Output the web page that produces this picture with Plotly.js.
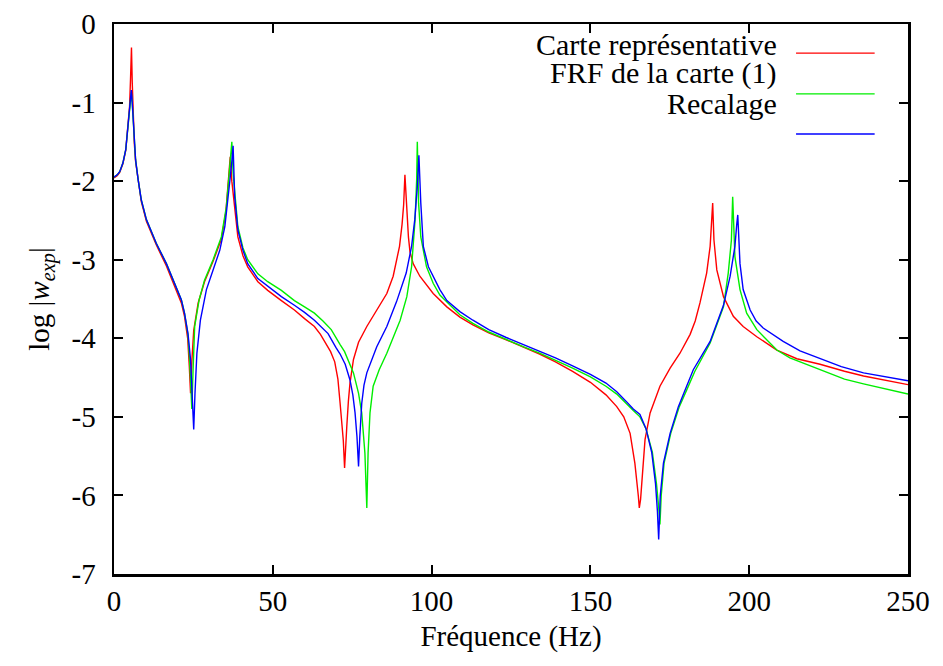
<!DOCTYPE html>
<html>
<head>
<meta charset="utf-8">
<script src="https://cdn.plot.ly/plotly-3.0.1.min.js"></script>
<style>
html,body{margin:0;padding:0;background:#fff;}
#chart{width:943px;height:666px;}
</style>
</head>
<body>
<div id="chart"></div>
<script>
// Series names
const seriesNames = ["Carte représentative", "FRF de la carte (1)", "Recalage"];
const seriesColors = ["#ff0000", "#00ee00", "#0000ff"];

// Carte représentative (red)
const freqRed = [0, 1.0, 1.8, 2.8, 3.7, 4.4, 4.9, 5.2, 5.5, 5.75, 6.0, 6.4, 6.8, 7.6, 8.6, 10.2, 11.8, 13.3, 16.5, 19.6, 21.2, 22.2, 23.2, 23.7, 24.1, 24.5, 25.1, 26.5, 28.5, 31.2, 33.8, 35.2, 36.0, 36.6, 37.1, 37.6, 38.0, 39.0, 40.6, 42.1, 45.3, 48.4, 52.7, 56.8, 60.0, 63.1, 65.0, 66.8, 68.2, 69.5, 70.5, 71.2, 71.8, 72.2, 72.6, 72.9, 73.3, 73.8, 74.3, 75.4, 77.0, 79.6, 82.5, 85.9, 87.9, 89.9, 90.7, 91.2, 91.6, 92.2, 92.7, 93.2, 94.2, 96.3, 100.5, 104.8, 108.9, 113, 118, 123.5, 129, 134, 139, 144.4, 150, 154.9, 158.3, 160.5, 162.5, 164.0, 165.1, 165.4, 165.8, 166.2, 167.2, 168.8, 171.9, 175.1, 178.2, 181.4, 183.0, 184.5, 186.6, 187.7, 188.2, 188.5, 188.9, 189.8, 191.9, 195.0, 198.1, 202.4, 208.7, 215, 222.3, 230, 236, 250];
const logRed = [-1.96, -1.93, -1.89, -1.78, -1.61, -1.32, -1.05, -0.70, -0.30, -0.75, -1.20, -1.52, -1.75, -2.00, -2.26, -2.51, -2.67, -2.81, -3.08, -3.38, -3.55, -3.72, -4.00, -4.35, -4.70, -4.30, -3.90, -3.55, -3.28, -3.02, -2.74, -2.40, -2.05, -1.69, -2.00, -2.20, -2.32, -2.71, -2.95, -3.09, -3.28, -3.39, -3.52, -3.64, -3.75, -3.85, -3.95, -4.07, -4.17, -4.30, -4.52, -4.83, -5.10, -5.30, -5.65, -5.35, -5.12, -4.80, -4.57, -4.27, -4.05, -3.85, -3.65, -3.43, -3.21, -2.83, -2.55, -2.30, -1.92, -2.41, -2.71, -2.90, -3.05, -3.21, -3.43, -3.60, -3.73, -3.83, -3.93, -4.02, -4.11, -4.20, -4.30, -4.42, -4.56, -4.72, -4.87, -5.00, -5.21, -5.59, -6.01, -6.16, -6.05, -5.80, -5.29, -4.95, -4.61, -4.38, -4.19, -3.95, -3.78, -3.55, -3.17, -2.83, -2.54, -2.28, -2.75, -3.13, -3.47, -3.72, -3.85, -3.98, -4.15, -4.26, -4.33, -4.42, -4.48, -4.59];

// FRF de la carte (1) (green)
const freqGreen = [0, 1.0, 1.8, 2.8, 3.7, 4.4, 4.9, 5.2, 5.45, 5.75, 6.0, 6.4, 6.8, 7.6, 8.6, 10.2, 11.8, 13.3, 16.5, 19.6, 21.2, 22.2, 23.3, 23.8, 24.2, 24.5, 24.9, 25.4, 26.8, 28.5, 31.2, 33.8, 35.4, 36.4, 37.1, 37.5, 38.0, 39.0, 40.6, 42.1, 45.3, 48.4, 52.7, 56.8, 60.0, 63.1, 65.8, 68.4, 71.2, 72.6, 75.4, 77.0, 78.0, 79.0, 79.6, 80.0, 80.6, 81.6, 83.5, 85.9, 88.0, 90.1, 92.2, 93.7, 94.8, 95.3, 95.5, 95.9, 96.6, 98.4, 100.5, 102.6, 108.9, 113, 118, 123.5, 129, 134, 139, 144.4, 150, 154.9, 158.3, 161.2, 163.5, 165.6, 167.5, 169.5, 170.8, 171.5, 171.9, 172.3, 173.2, 175.3, 178.0, 180.3, 182.9, 187.7, 191.9, 193.4, 194.4, 194.8, 195.5, 197.1, 199.2, 202.4, 208.7, 212.8, 222.3, 230, 236, 250];
const logGreen = [-1.95, -1.92, -1.88, -1.77, -1.60, -1.31, -1.09, -0.97, -0.87, -1.02, -1.22, -1.50, -1.73, -1.98, -2.24, -2.49, -2.65, -2.79, -3.05, -3.34, -3.51, -3.68, -3.96, -4.27, -4.60, -4.90, -4.40, -3.85, -3.51, -3.26, -3.00, -2.71, -2.32, -1.86, -1.50, -1.90, -2.15, -2.58, -2.85, -3.00, -3.18, -3.28, -3.39, -3.52, -3.60, -3.68, -3.78, -3.89, -4.08, -4.17, -4.44, -4.70, -4.95, -5.46, -6.16, -5.46, -4.95, -4.61, -4.40, -4.19, -3.98, -3.77, -3.47, -3.09, -2.49, -1.98, -1.50, -2.28, -2.71, -3.09, -3.30, -3.45, -3.70, -3.81, -3.92, -4.02, -4.11, -4.19, -4.28, -4.38, -4.49, -4.61, -4.71, -4.82, -4.92, -5.00, -5.15, -5.45, -5.85, -6.15, -6.37, -6.00, -5.59, -5.21, -4.87, -4.66, -4.42, -4.06, -3.60, -3.17, -2.75, -2.20, -2.96, -3.38, -3.68, -3.89, -4.15, -4.25, -4.40, -4.52, -4.58, -4.71];

// Recalage (blue)
const freqBlue = [0, 1.0, 1.8, 2.8, 3.7, 4.4, 4.9, 5.2, 5.45, 5.75, 6.0, 6.4, 6.8, 7.6, 8.6, 10.2, 11.8, 13.3, 16.5, 19.6, 21.2, 22.2, 23.3, 24.1, 24.6, 25.1, 25.5, 26.1, 27.2, 29.1, 31.2, 33.3, 34.9, 35.9, 36.6, 37.1, 37.5, 38.0, 39.0, 40.6, 42.1, 45.3, 48.4, 52.7, 56.8, 60.0, 63.1, 67.4, 69.9, 71.2, 72.8, 74.3, 75.2, 75.9, 76.5, 77.0, 77.4, 78.0, 78.7, 79.6, 82.7, 85.9, 89.0, 92.0, 93.7, 94.7, 95.5, 96.0, 96.6, 97.4, 99.0, 102.6, 104.8, 108.9, 113, 118, 123.5, 129, 134, 139, 144.4, 150, 154.9, 158.3, 161.2, 163.5, 165.6, 167.5, 169.3, 170.5, 171.1, 171.5, 172.0, 173.0, 175.1, 177.7, 180.3, 182.4, 187.7, 191.9, 194.0, 195.5, 196.1, 196.4, 197.1, 198.1, 200.3, 202.2, 204.4, 210.7, 216, 222.3, 229, 236, 250];
const logBlue = [-1.95, -1.92, -1.88, -1.77, -1.60, -1.31, -1.09, -0.95, -0.84, -1.00, -1.22, -1.50, -1.73, -1.98, -2.24, -2.49, -2.65, -2.79, -3.05, -3.34, -3.51, -3.68, -3.94, -4.27, -4.70, -5.16, -4.70, -4.19, -3.77, -3.38, -3.13, -2.88, -2.58, -2.24, -1.95, -1.75, -1.55, -2.20, -2.62, -2.88, -3.05, -3.24, -3.34, -3.47, -3.58, -3.67, -3.77, -3.94, -4.12, -4.20, -4.33, -4.53, -4.72, -4.95, -5.25, -5.63, -5.25, -4.83, -4.60, -4.44, -4.11, -3.85, -3.53, -3.17, -2.83, -2.49, -2.07, -1.67, -2.28, -2.83, -3.09, -3.38, -3.52, -3.66, -3.77, -3.89, -3.99, -4.08, -4.16, -4.25, -4.35, -4.46, -4.57, -4.68, -4.80, -4.90, -4.97, -5.15, -5.45, -5.85, -6.20, -6.56, -6.00, -5.59, -5.21, -4.87, -4.61, -4.40, -4.04, -3.58, -3.21, -2.83, -2.54, -2.43, -3.05, -3.38, -3.64, -3.78, -3.87, -4.04, -4.16, -4.26, -4.36, -4.44, -4.54];

const xTickVals = [0, 50, 100, 150, 200, 250];
const yTickVals = [0, -1, -2, -3, -4, -5, -6, -7];
const xTitle = "Fréquence (Hz)";
const yTitle = "log |<i>w</i><sub><i>exp</i></sub>|";

const xs = [freqRed, freqGreen, freqBlue];
const ys = [logRed, logGreen, logBlue];

const traces = xs.map((x, i) => ({
  x: x, y: ys[i], type: "scatter", mode: "lines",
  name: seriesNames[i], showlegend: false,
  line: {color: seriesColors[i], width: 1.4}
}));

const FONT = "'Liberation Serif', 'DejaVu Serif', serif";

// Legend (gnuplot-style: labels right aligned, samples at the right)
const legTextY = [0.962, 0.911, 0.856];
const legLineY = [0.947, 0.873, 0.800];
const annotations = seriesNames.map((n, i) => ({
  xref: "paper", yref: "paper", x: 0.837, y: legTextY[i],
  xanchor: "right", yanchor: "middle", text: n, showarrow: false,
  font: {family: FONT, size: 30, color: "#000"}
}));
const shapes = seriesNames.map((n, i) => ({
  type: "line", xref: "paper", yref: "paper",
  x0: 0.859, x1: 0.958, y0: legLineY[i], y1: legLineY[i],
  line: {color: seriesColors[i], width: 1.4}
}));

const layout = {
  width: 943, height: 666,
  margin: {l: 114, r: 35, t: 24, b: 92},
  paper_bgcolor: "#fff", plot_bgcolor: "#fff",
  font: {family: FONT, size: 29, color: "#000"},
  showlegend: false,
  xaxis: {
    range: [0, 250], tickvals: xTickVals, ticktext: xTickVals.map(String),
    ticks: "inside", ticklen: 9, tickwidth: 2, tickcolor: "#000",
    tickfont: {family: FONT, size: 29, color: "#000"},
    showline: true, linecolor: "#000", linewidth: 2.5, mirror: "ticks",
    showgrid: false, zeroline: false, ticklabelstandoff: 0,
    title: {text: xTitle, font: {family: FONT, size: 29, color: "#000"}, standoff: 10}
  },
  yaxis: {
    range: [-7, 0], tickvals: yTickVals, ticktext: yTickVals.map(String),
    ticks: "inside", ticklen: 9, tickwidth: 2, tickcolor: "#000",
    tickfont: {family: FONT, size: 29, color: "#000"},
    showline: true, linecolor: "#000", linewidth: 2.5, mirror: "ticks",
    showgrid: false, zeroline: false, ticklabelstandoff: 10,
    title: {text: yTitle, font: {family: FONT, size: 29, color: "#000"}, standoff: 14}
  },
  annotations: annotations,
  shapes: shapes
};

Plotly.newPlot("chart", traces, layout, {displayModeBar: false, staticPlot: true});
</script>
</body>
</html>
